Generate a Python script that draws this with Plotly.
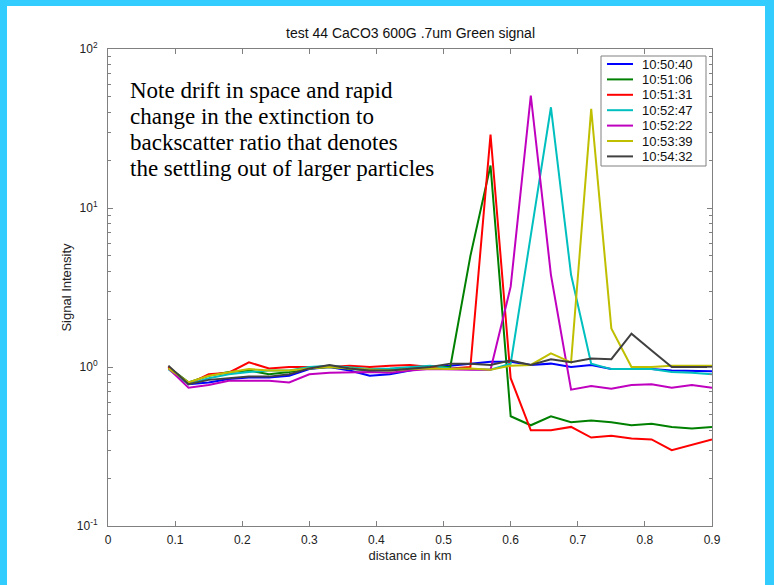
import plotly.graph_objects as go

# distance samples (km)
distance_km = [0.09, 0.12, 0.15, 0.18, 0.21, 0.24, 0.27, 0.30, 0.33, 0.36,
               0.39, 0.42, 0.45, 0.48, 0.51, 0.54, 0.57, 0.60, 0.63, 0.66,
               0.69, 0.72, 0.75, 0.78, 0.81, 0.84, 0.87, 0.90]

series_names = ["10:50:40", "10:51:06", "10:51:31", "10:52:47",
                "10:52:22", "10:53:39", "10:54:32"]

sig_105040 = [1.00, 0.78, 0.80, 0.84, 0.86, 0.86, 0.88, 0.97, 1.00, 0.95,
              0.88, 0.90, 0.95, 1.00, 1.02, 1.05, 1.08, 1.08, 1.03, 1.05,
              1.00, 1.03, 0.97, 0.97, 0.97, 0.95, 0.95, 0.94]
sig_105106 = [1.00, 0.80, 0.88, 0.93, 0.95, 0.90, 0.93, 0.98, 1.00, 0.98,
              0.95, 0.96, 0.98, 1.00, 1.00, 5.0, 18.5, 0.49, 0.43, 0.49,
              0.45, 0.46, 0.45, 0.43, 0.44, 0.42, 0.41, 0.42]
sig_105131 = [1.00, 0.78, 0.90, 0.92, 1.07, 0.98, 1.00, 1.00, 1.00, 1.02,
              1.00, 1.02, 1.03, 1.00, 0.98, 1.00, 29.0, 0.85, 0.40, 0.40,
              0.42, 0.36, 0.37, 0.355, 0.35, 0.30, 0.325, 0.35]
sig_105247 = [0.97, 0.78, 0.85, 0.90, 0.93, 0.95, 0.95, 1.00, 1.02, 1.00,
              0.97, 0.98, 1.00, 1.02, 0.98, 0.97, 0.96, 1.05, 6.5, 43.0,
              3.8, 1.05, 0.97, 0.97, 0.97, 0.93, 0.92, 0.90]
sig_105222 = [0.98, 0.74, 0.77, 0.82, 0.82, 0.82, 0.80, 0.90, 0.92, 0.93,
              0.93, 0.92, 0.95, 0.97, 0.96, 0.96, 0.96, 3.2, 51.0, 3.8,
              0.72, 0.76, 0.73, 0.77, 0.78, 0.74, 0.77, 0.74]
sig_105339 = [0.98, 0.80, 0.88, 0.92, 0.97, 0.95, 0.95, 0.98, 1.00, 0.98,
              0.97, 0.95, 0.97, 0.98, 0.97, 0.98, 0.96, 1.02, 1.03, 1.22,
              1.07, 42.0, 1.75, 1.00, 1.00, 1.02, 1.02, 1.02]
sig_105432 = [1.02, 0.78, 0.83, 0.85, 0.87, 0.87, 0.90, 0.98, 1.03, 0.98,
              0.95, 0.95, 0.97, 1.00, 1.05, 1.05, 1.03, 1.10, 1.03, 1.12,
              1.07, 1.13, 1.12, 1.62, 1.27, 1.00, 1.00, 1.00]

signals = [sig_105040, sig_105106, sig_105131, sig_105247,
           sig_105222, sig_105339, sig_105432]
colors = ["#0000FF", "#008000", "#FF0000", "#00BFBF",
          "#BF00BF", "#BFBF00", "#404040"]

x_ticks = [0, 0.1, 0.2, 0.3, 0.4, 0.5, 0.6, 0.7, 0.8, 0.9]
x_tick_text = ["0", "0.1", "0.2", "0.3", "0.4", "0.5", "0.6", "0.7", "0.8", "0.9"]
y_ticks = [0.1, 1, 10, 100]
y_tick_text = ["10<sup>-1</sup>", "10<sup>0</sup>", "10<sup>1</sup>", "10<sup>2</sup>"]
y_minor = [m * d for d in (0.1, 1, 10) for m in range(2, 10)]

note_lines = ["Note drift in space and rapid",
              "change in the extinction to",
              "backscatter ratio that denotes",
              "the settling out of larger particles"]

W, H = 774, 585
L, R, T, B = 108, 62, 49, 59
PW, PH = W - L - R, H - T - B


def px(xp):
    return (xp - L) / PW


def py(yp):
    return (H - B - yp) / PH


FONT = "Liberation Sans, Arial, sans-serif"
AXIS_GREY = "#808080"

fig = go.Figure()
for name, sig, col in zip(series_names, signals, colors):
    fig.add_trace(go.Scatter(x=distance_km, y=sig, mode="lines", name=name,
                             line=dict(color=col, width=2), showlegend=False))

axis_common = dict(showline=True, linecolor=AXIS_GREY, linewidth=1,
                   mirror="ticks", ticks="inside", tickcolor=AXIS_GREY,
                   showgrid=False, zeroline=False,
                   tickfont=dict(family=FONT, size=12, color="#222"))

fig.update_xaxes(range=[0, 0.9], tickvals=x_ticks, ticktext=x_tick_text,
                 ticklen=5, ticklabelstandoff=3,
                 title=dict(text="distance in km", standoff=4,
                            font=dict(family=FONT, size=13, color="#222")),
                 **axis_common)
fig.update_yaxes(type="log", range=[-1, 2], tickvals=y_ticks, ticktext=y_tick_text,
                 ticklen=5, ticklabelstandoff=7,
                 minor=dict(ticks="inside", ticklen=3, tickcolor=AXIS_GREY,
                            tickvals=y_minor),
                 title=dict(text="Signal Intensity", standoff=2,
                            font=dict(family=FONT, size=13, color="#222")),
                 **axis_common)

shapes = []
annotations = []

# cyan frame around the page
CYAN = "#33CCFF"
frame = [(0, 7, 0, H), (0, W, 0, 6), (765, W, 0, H)]
for fx0, fx1, fy0, fy1 in frame:
    shapes.append(dict(type="rect", xref="paper", yref="paper",
                       x0=px(fx0), x1=px(fx1), y0=py(fy1), y1=py(fy0),
                       fillcolor=CYAN, line=dict(width=0), layer="below"))

# legend box
LEG_X0, LEG_X1, LEG_Y0, LEG_Y1 = 601, 706, 56, 166
shapes.append(dict(type="rect", xref="paper", yref="paper",
                   x0=px(LEG_X0), x1=px(LEG_X1), y0=py(LEG_Y1), y1=py(LEG_Y0),
                   fillcolor="white", line=dict(color=AXIS_GREY, width=1)))
row0, row_step = 64, 15.4
for i, (name, col) in enumerate(zip(series_names, colors)):
    yc = row0 + i * row_step
    shapes.append(dict(type="line", xref="paper", yref="paper",
                       x0=px(607), x1=px(633), y0=py(yc), y1=py(yc),
                       line=dict(color=col, width=2)))
    annotations.append(dict(xref="paper", yref="paper", x=px(640), y=py(yc),
                            text=name, showarrow=False, xanchor="left",
                            yanchor="middle",
                            font=dict(family=FONT, size=13, color="#111")))

# annotation text block
for i, line in enumerate(note_lines):
    annotations.append(dict(xref="paper", yref="paper", x=px(128), y=py(90 + i * 26),
                            text=line, showarrow=False, xanchor="left",
                            yanchor="middle",
                            font=dict(family="Liberation Serif, Times New Roman, serif",
                                      size=23, color="#000")))

# chart title
annotations.append(dict(xref="paper", yref="paper", x=px(410), y=py(33),
                        text="test 44 CaCO3 600G .7um Green signal", showarrow=False,
                        xanchor="center", yanchor="middle",
                        font=dict(family=FONT, size=14, color="#111")))

fig.update_layout(
    width=W, height=H,
    margin=dict(l=L, r=R, t=T, b=B, pad=0),
    paper_bgcolor="white", plot_bgcolor="white",
    shapes=shapes, annotations=annotations,
    showlegend=False,
)

fig.write_html("out.html")
